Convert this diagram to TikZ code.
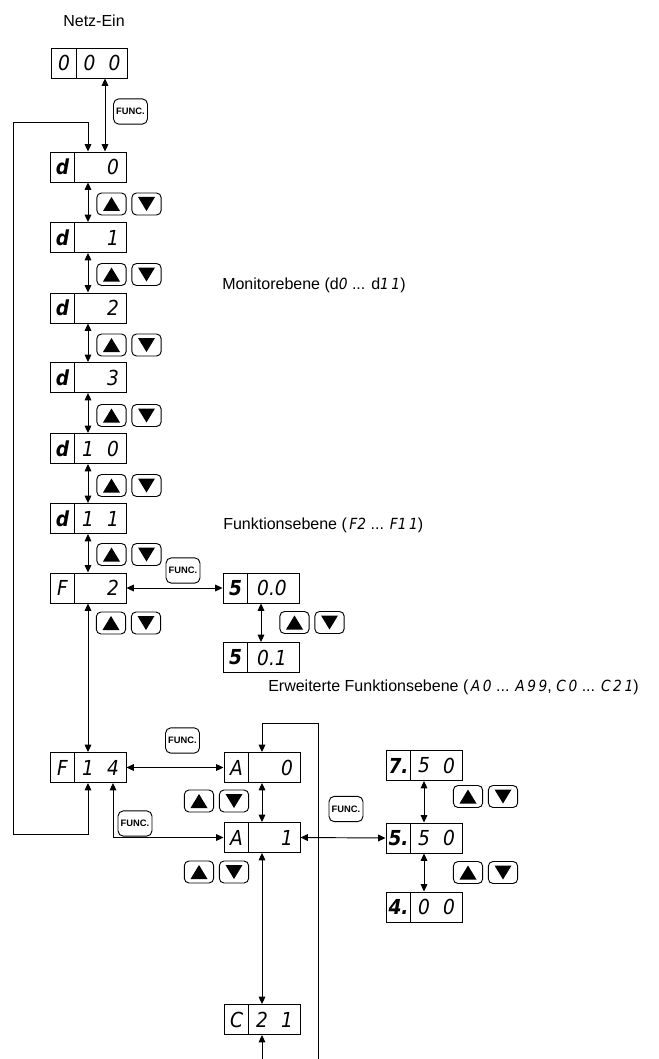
\documentclass[tikz,border=0pt]{standalone}
\usepackage{fontspec}
\setmainfont{Liberation Sans}
\newfontfamily\segfont{DejaVu Sans Condensed}
\usetikzlibrary{arrows.meta}
\newcommand\lseg{\segfont\itshape\fontsize{11.5}{12}\selectfont}
\tikzset{
  x=0.75pt, y=-0.75pt,
  disp/.style={draw, line width=0.7pt, minimum width=57pt, minimum height=22.5pt, inner sep=0pt},
  seg/.style={font=\segfont\itshape\fontsize{15.5}{15.5}\selectfont, inner sep=0pt},
  segb/.style={font=\segfont\bfseries\itshape\fontsize{15.5}{15.5}\selectfont, inner sep=0pt},
  lbl/.style={font=\fontsize{12}{14}\selectfont, inner sep=0pt},
  btn/.style={draw, line width=0.7pt, rounded corners=3.5pt, minimum width=22pt, minimum height=16.5pt, inner sep=0pt},
  upbtn/.style={btn, path picture={\fill[sharp corners] (path picture bounding box.center) ++(-8.5,7) -- ++(17,0) -- ++(-8.5,-14) -- cycle;}},
  dnbtn/.style={btn, path picture={\fill[sharp corners] (path picture bounding box.center) ++(-8.5,-7) -- ++(17,0) -- ++(-8.5,14) -- cycle;}},
  fbtn/.style={draw, line width=0.7pt, rounded corners=4pt, minimum width=25.5pt, minimum height=19pt, inner sep=0pt, font=\bfseries\fontsize{7}{7}\selectfont},
  con/.style={line width=0.7pt, {Triangle[length=5.5pt,width=5pt]}-{Triangle[length=5.5pt,width=5pt]}},
  con1/.style={line width=0.7pt, -{Triangle[length=5.5pt,width=5pt]}},
}
% display: name, cx, cy, left, slot1, slot2
\newcommand\dbox[6]{%
  \node[disp] (#1) at (#2,#3) {};
  \draw[line width=0.7pt] (#1.north west) ++(25,0) -- ++(0,30);
  \node[segb] (#1-a) at (#2-25.5,#3) {#4};
  \node[seg] (#1-b) at (#2,#3) {#5};
  \node[seg] (#1-c) at (#2+25,#3) {#6};
}
% display with one centered string in right cell
\newcommand\dboxs[5]{%
  \node[disp] (#1) at (#2,#3) {};
  \draw[line width=0.7pt] (#1.north west) ++(25,0) -- ++(0,30);
  \node[segb] (#1-a) at (#2-25.5,#3) {#4};
  \node[seg] (#1-b) at (#2+11,#3) {#5};
}
\newcommand\updn[3]{%
  \node[upbtn] (#1u) at (#2,#3) {};
  \node[dnbtn] (#1d) at (#2+35,#3) {};
}
\begin{document}
\begin{tikzpicture}
\useasboundingbox (0,0) rectangle (658,1059);

% labels
\node[lbl] (tnetz) at (94,21) {Netz-Ein};
\node[lbl, anchor=west] (tmon) at (222,285) {Monitorebene (d{\lseg 0} ... d{\lseg 1\,1})};
\node[lbl, anchor=west] (tfun) at (223,525) {Funktionsebene ({\lseg\,F2} ... {\lseg F1\,1})};
\node[lbl, anchor=west] (terw) at (268,687) {Erweiterte Funktionsebene ({\lseg\,A\,0} ... {\lseg A\,9\,9}, {\lseg C\,0} ... {\lseg C\,2\,1})};

% displays
\dbox{n000}{89.5}{63}{\mdseries 0}{0}{0}
\dbox{d0}{88}{167}{d}{}{0}
\dbox{d1}{88}{237.5}{d}{}{1}
\dbox{d2}{88}{308}{d}{}{2}
\dbox{d3}{88}{377.5}{d}{}{3}
\dbox{d10}{88}{448.5}{d}{1}{0}
\dbox{d11}{88}{518.5}{d}{1}{1}
\dbox{F2}{88}{588}{\mdseries F}{}{2}
\dbox{F14}{88}{767.5}{\mdseries F}{1}{4}
\dboxs{S0}{261}{588}{5}{0.0}
\dboxs{S1}{261}{657.5}{5}{0.1}
\dbox{A0}{262}{767.5}{\mdseries A}{}{0}
\dbox{A1}{262}{837.5}{\mdseries A}{}{1}
\dbox{C21}{262}{1019.5}{\mdseries C}{2}{1}
\dbox{R1}{424}{765.5}{7.}{5}{0}
\dbox{R2}{424}{838}{5.}{5}{0}
\dbox{R3}{424}{907}{4.}{0}{0}

% buttons
\updn{b1}{111.5}{204}
\updn{b2}{111.5}{274.5}
\updn{b3}{111.5}{345}
\updn{b4}{111.5}{415.5}
\updn{b5}{111.5}{485.5}
\updn{b6}{111.5}{554.5}
\updn{b7}{111}{623}
\updn{b8}{294.5}{622.5}
\updn{b9}{199}{801}
\updn{b10}{199}{872}
\updn{b11}{468}{796.5}
\updn{b12}{468}{872.5}

\node[fbtn] (f1) at (130.5,111.5) {FUNC.};
\node[fbtn] (f2) at (183,570.5) {FUNC.};
\node[fbtn] (f3) at (182.5,740.5) {FUNC.};
\node[fbtn] (f4) at (135,823.5) {FUNC.};
\node[fbtn] (f5) at (346,809) {FUNC.};

% helper coordinates
\coordinate (fx0) at (105,0);
\coordinate (loopA) at (13,834);
\coordinate (loopB) at (13,122);
\coordinate (fx) at (113,0);
\coordinate (rb) at (318,1059);
\coordinate (rt) at (318,723);
\coordinate (cb) at (262,1059);

% connectors
\draw[con] (n000.south -| fx0) -- (d0.north -| fx0);
\draw[con] (F14.south) |- (loopA) -- (loopB) -| (d0.north);
\draw[con] (d0.south) -- (d1.north);
\draw[con] (d1.south) -- (d2.north);
\draw[con] (d2.south) -- (d3.north);
\draw[con] (d3.south) -- (d10.north);
\draw[con] (d10.south) -- (d11.north);
\draw[con] (d11.south) -- (F2.north);
\draw[con] (F2.south) -- (F14.north);
\draw[con] (F2.east) -- (S0.west);
\draw[con] (S0.south) -- (S1.north);
\draw[con] (F14.east) -- (A0.west);
\draw[con] (F14.south -| fx) |- (A1.west);
\draw[con] (A0.south) -- (A1.north);
\draw[con] (A1.south) -- (C21.north);
\draw[con1] (cb) -- (C21.south);
\draw[con1] (rb) -- (rt) -| (A0.north);
\draw[con] (A1.east) -- (R2.west);
\draw[con] (R1.south) -- (R2.north);
\draw[con] (R2.south) -- (R3.north);
\end{tikzpicture}
\end{document}
